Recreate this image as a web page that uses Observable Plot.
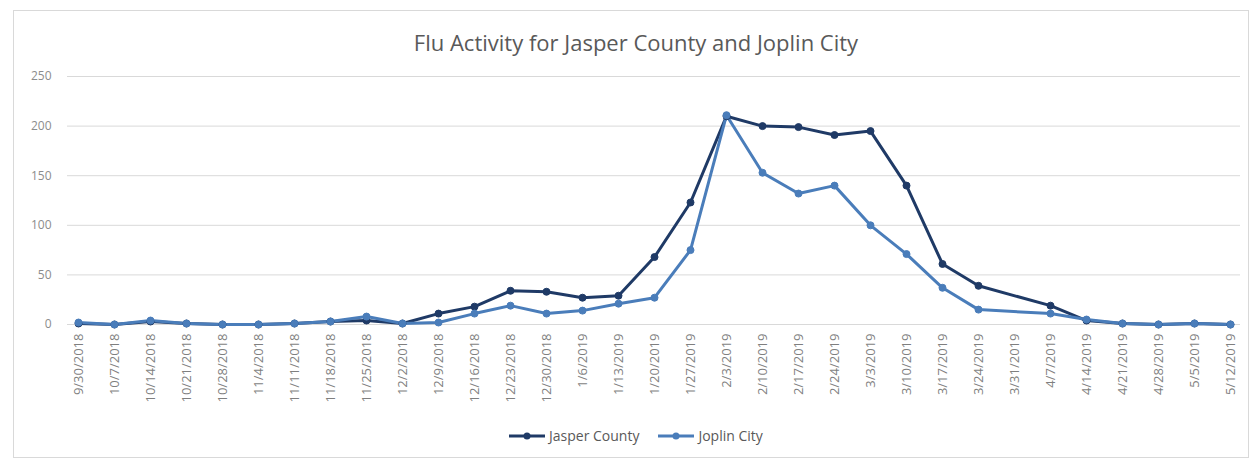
<!DOCTYPE html>
<html>
<head>
<meta charset="utf-8">
<script src="https://cdn.jsdelivr.net/npm/d3@7"></script>
<script src="https://cdn.jsdelivr.net/npm/@observablehq/plot@0.6"></script>
<style>
  html, body { margin: 0; padding: 0; background: #fff; }
  #wrap { position: relative; width: 1252px; height: 461px; overflow: hidden; font-family: "Open Sans", Lato, sans-serif; }
  #frame { position: absolute; left: 13px; top: 10px; width: 1236px; height: 448px; border: 1px solid #d9d9d9; box-sizing: border-box; }
  #title { position: absolute; left: 13px; top: 27px; width: 1246px; text-align: center; font-size: 22px; color: #595959; }
  #chart { position: absolute; left: 0; top: 0; }
  #legend { position: absolute; left: 508px; top: 426px; display: flex; align-items: center; font-size: 14px; color: #595959; }
  .item { display: flex; align-items: center; gap: 3px; margin-right: 18px; }
</style>
</head>
<body>
<div id="wrap">
  <div id="frame"></div>
  <div id="chart"></div>
  <div id="title">Flu Activity for Jasper County and Joplin City</div>
  <div id="legend"></div>
</div>
<script>
const weeks = ["9/30/2018","10/7/2018","10/14/2018","10/21/2018","10/28/2018","11/4/2018","11/11/2018","11/18/2018","11/25/2018","12/2/2018","12/9/2018","12/16/2018","12/23/2018","12/30/2018","1/6/2019","1/13/2019","1/20/2019","1/27/2019","2/3/2019","2/10/2019","2/17/2019","2/24/2019","3/3/2019","3/10/2019","3/17/2019","3/24/2019","3/31/2019","4/7/2019","4/14/2019","4/21/2019","4/28/2019","5/5/2019","5/12/2019"];
const jasperCounty = [1,0,3,1,0,0,1,3,4,1,11,18,34,33,27,29,68,123,210,200,199,191,195,140,61,39,null,19,4,1,0,1,0];
const joplinCity   = [2,0,4,1,0,0,1,3,8,1,2,11,19,11,14,21,27,75,211,153,132,140,100,71,37,15,null,11,5,1,0,1,0];
const seriesNames = ["Jasper County", "Joplin City"];
const seriesColors = ["#1f3a66", "#4a7dba"];
const yTicks = [0, 50, 100, 150, 200, 250];

const rows = [];
weeks.forEach((w, i) => {
  if (jasperCounty[i] != null) rows.push({week: w, value: jasperCounty[i], series: seriesNames[0]});
  if (joplinCity[i] != null) rows.push({week: w, value: joplinCity[i], series: seriesNames[1]});
});

const plot = Plot.plot({
  width: 1252,
  height: 461,
  marginLeft: 67,
  marginRight: 12,
  marginTop: 76,
  marginBottom: 137,
  style: {fontFamily: "'Open Sans', Lato, sans-serif", background: "transparent"},
  x: {type: "point", domain: weeks, padding: 0},
  y: {domain: [0, 250], ticks: yTicks},
  color: {domain: seriesNames, range: seriesColors},
  marks: [
    Plot.gridY(yTicks.filter(d => d > 0), {stroke: "#d9d9d9", strokeOpacity: 1, strokeWidth: 1}),
    Plot.ruleY([0], {stroke: "#d9d9d9", strokeWidth: 1}),
    Plot.axisY({ticks: yTicks, tickSize: 0, tickPadding: 16, label: null, fontSize: 12, fill: "#8c8c8c"}),
    Plot.axisX({tickRotate: -90, tickSize: 0, tickPadding: 9, label: null, fontSize: 13, fill: "#7f7f7f"}),
    Plot.line(rows, {x: "week", y: "value", stroke: "series", strokeWidth: 3, curve: "linear"}),
    Plot.dot(rows, {x: "week", y: "value", fill: "series", r: 3.5, stroke: "series", strokeWidth: 1})
  ]
});
document.getElementById("chart").appendChild(plot);

const legend = document.getElementById("legend");
seriesNames.forEach((name, i) => {
  const item = document.createElement("div");
  item.className = "item";
  item.innerHTML = `<svg width="38" height="10"><line x1="1" y1="5" x2="37" y2="5" stroke="${seriesColors[i]}" stroke-width="3"/><circle cx="19" cy="5" r="3.5" fill="${seriesColors[i]}"/></svg><span>${name}</span>`;
  legend.appendChild(item);
});
</script>
</body>
</html>
